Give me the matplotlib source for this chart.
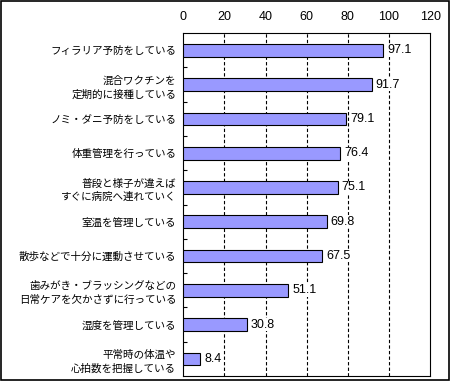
import numpy as np
import matplotlib.pyplot as plt
from matplotlib.patches import Rectangle

plt.rcParams['font.family'] = ['Noto Sans CJK JP', 'DejaVu Sans']

# Data
labels = [
    "フィラリア予防をしている",
    "混合ワクチンを\n定期的に接種している",
    "ノミ・ダニ予防をしている",
    "体重管理を行っている",
    "普段と様子が違えば\nすぐに病院へ連れていく",
    "室温を管理している",
    "散歩などで十分に運動させている",
    "歯みがき・ブラッシングなどの\n日常ケアを欠かさずに行っている",
    "湿度を管理している",
    "平常時の体温や\n心拍数を把握している",
]
values = [97.1, 91.7, 79.1, 76.4, 75.1, 69.8, 67.5, 51.1, 30.8, 8.4]
xticks = [0, 20, 40, 60, 80, 100, 120]

fig = plt.figure(figsize=(4.5, 3.81), dpi=100)
ax = fig.add_axes([0.407, 0.013, 0.549, 0.900])

y = np.arange(len(values))
ax.barh(y, values, height=0.37, color='#9999FF', edgecolor='black', linewidth=0.8, zorder=3)

# value labels sit on a white patch so the grid does not show through
for yi, v in zip(y, values):
    ax.text(v + 1.9, yi, f"{v:.1f}", va='center', ha='left', fontsize=9, zorder=4,
            family='Liberation Sans',
            bbox=dict(facecolor='white', edgecolor='none', pad=0.3))

ax.set_xlim(0, 120)
ax.set_ylim(len(values) - 0.5, -0.5)
ax.set_xticks(xticks)
ax.xaxis.tick_top()
ax.tick_params(axis='x', length=0, pad=7, labelsize=9)
for t in ax.get_xticklabels():
    t.set_family('Liberation Sans')

ax.set_yticks(y)
ax.set_yticklabels(labels, fontsize=7.6, linespacing=1.45)
ax.set_yticks(np.arange(0.5, len(values) - 1, 1.0), minor=True)
ax.tick_params(axis='y', which='major', length=0, pad=5)
ax.tick_params(axis='y', which='minor', direction='in', length=3, width=0.8)

for gx in xticks[1:-1]:
    ax.axvline(gx, color='black', linestyle=(0, (3, 2)), linewidth=0.8, zorder=1)

for s in ax.spines.values():
    s.set_linewidth(0.8)

# outer frame
fig.patches.append(Rectangle((0.002, 0.003), 0.996, 0.994, transform=fig.transFigure,
                             fill=False, edgecolor='black', linewidth=1.2))

fig.savefig('out.png', dpi=100)
